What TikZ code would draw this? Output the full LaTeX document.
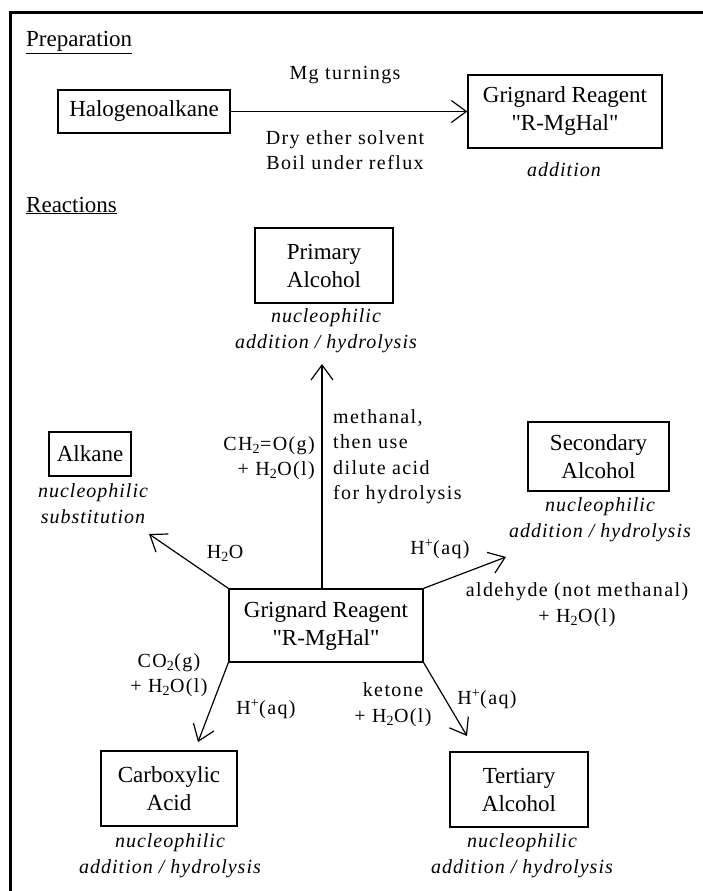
\documentclass[tikz,border=0pt]{standalone}
\usepackage{fontspec}
\setmainfont{Liberation Serif}
\usetikzlibrary{arrows.meta}

\newcommand{\boxfont}{\fontsize{23}{28}\selectfont}
\newcommand{\labfont}{\fontsize{20}{25.5}\selectfont\addfontfeatures{LetterSpace=7}}
\newcommand{\notefont}{\fontsize{20}{26}\selectfont\itshape\addfontfeatures{LetterSpace=5}}
\newcommand{\rmghal}{\textquotedbl R-MgHal\textquotedbl}

\tikzset{
  chembox/.style={draw, line width=1.3pt, font=\boxfont, align=center, inner sep=0pt},
  lab/.style={font=\labfont, align=center, inner sep=0pt},
  note/.style={font=\notefont, align=center, inner sep=0pt},
  heading/.style={font=\boxfont, anchor=base west, inner sep=0pt},
  arr/.style={line width=1.2pt, -{Straight Barb[length=15pt,width=22pt,line width=1.2pt]}}
}

\begin{document}
\begin{tikzpicture}[x=1pt,y=-1pt]
\useasboundingbox (0,0) rectangle (703,891);

% outer frame (top and left edges)
\draw[line width=3pt] (703,12.5) -- (10.5,12.5) -- (10.5,891);

% ---------- Preparation ----------
\node[heading] (hprep) at (26,47) {\underline{Preparation}};

\node[chembox, minimum width=172pt, minimum height=43pt] (halo) at (144,111.5) {Halogenoalkane};
\node[chembox, minimum width=194pt, minimum height=73pt] (gtop) at (565,111.5) {Grignard Reagent\\\rmghal};
\draw[arr] (halo.east) -- (gtop.west);

\node[lab] (mg) at (345,75) {Mg turnings};
\node[lab] (dry) at (345,150) {Dry ether solvent\\Boil under reflux};
\node[note] (add) at (564,170) {addition};

% ---------- Reactions ----------
\node[heading] (hreac) at (26,212) {\underline{Reactions}};

\node[chembox, minimum width=194pt, minimum height=73pt] (gc) at (326,625.5) {Grignard Reagent\\\rmghal};

\node[chembox, minimum width=138pt, minimum height=75pt] (prim) at (324,265.5) {Primary\\Alcohol};
\node[note] (nprim) at (326,330.5) {nucleophilic\\addition / hydrolysis};

\node[chembox, minimum width=82pt, minimum height=44pt] (alk) at (90,454) {Alkane};
\node[note] (nalk) at (93,504) {nucleophilic\\substitution};

\node[chembox, minimum width=141pt, minimum height=69pt] (sec) at (598.5,456.5) {Secondary\\Alcohol};
\node[note] (nsec) at (600,520) {nucleophilic\\addition / hydrolysis};

\node[chembox, minimum width=136pt, minimum height=75pt] (carb) at (169,788.5) {Carboxylic\\Acid};
\node[note] (ncarb) at (170,856) {nucleophilic\\addition / hydrolysis};

\node[chembox, minimum width=138pt, minimum height=75pt] (tert) at (519,789.5) {Tertiary\\Alcohol};
\node[note] (ntert) at (522,856) {nucleophilic\\addition / hydrolysis};

% free ends of the reaction arrows
\coordinate (ptip) at (322,364);
\coordinate (atip) at (149,534);
\coordinate (stip) at (506,557);
\coordinate (ctip) at (198,742);
\coordinate (ttip) at (467,736);

\draw[arr] ([xshift=-4pt]gc.north) -- (ptip);
\draw[arr] (gc.north west) -- (atip);
\draw[arr] (gc.north east) -- (stip);
\draw[arr] (gc.south west) -- (ctip);
\draw[arr] (gc.south east) -- (ttip);

% reagents and conditions
\node[lab, anchor=east, align=right] (lch2o) at (315,458) {CH\textsubscript{2}=O(g)\\+ H\textsubscript{2}O(l)};
\node[lab, anchor=west, align=left] (lmeth) at (333,456.5) {methanal,\\then use\\dilute acid\\for hydrolysis};

\node[lab] (lh2o) at (225,553) {H\textsubscript{2}O};
\node[lab] (lhs) at (440,549) {H\textsuperscript{+}(aq)};
\node[lab] (lald) at (577,604.5) {aldehyde (not methanal)\\+ H\textsubscript{2}O(l)};

\node[lab] (lco2) at (169,675) {CO\textsubscript{2}(g)\\+ H\textsubscript{2}O(l)};
\node[lab] (lhc) at (266,709) {H\textsuperscript{+}(aq)};
\node[lab] (lket) at (393,704.5) {ketone\\+ H\textsubscript{2}O(l)};
\node[lab] (lht) at (487,699) {H\textsuperscript{+}(aq)};

\end{tikzpicture}
\end{document}
